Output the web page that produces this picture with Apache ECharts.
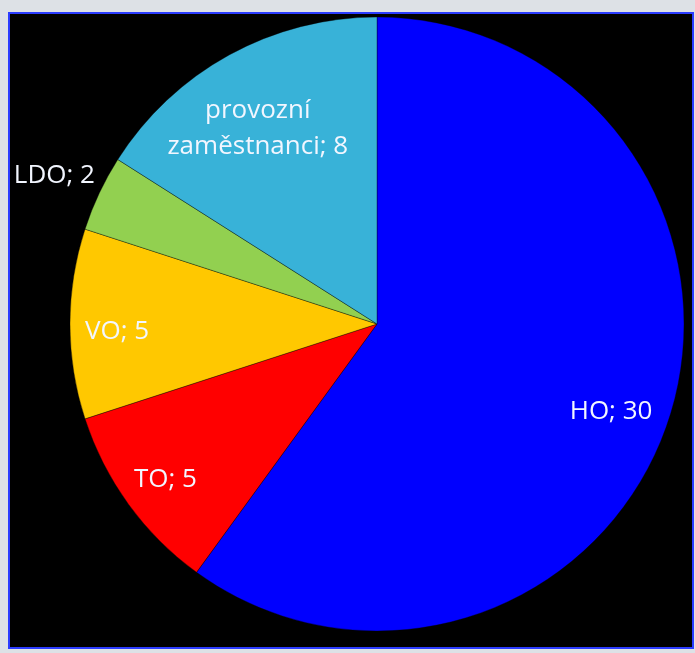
<!DOCTYPE html>
<html>
<head>
<meta charset="utf-8">
<script src="https://cdn.jsdelivr.net/npm/echarts@6/dist/echarts.min.js"></script>
<style>
  html, body { margin: 0; padding: 0; width: 695px; height: 653px; overflow: hidden; background: #dde1e6; }
  #frame { position: absolute; left: 8px; top: 12px; width: 682px; height: 633px; border: 2px solid #2b3cff; background: #000; }
  #chart { position: absolute; left: 0; top: 0; width: 695px; height: 653px; }
</style>
</head>
<body>
<div id="frame"></div>
<div id="chart"></div>
<script>
const categories = ['HO', 'TO', 'VO', 'LDO', 'provozní zaměstnanci'];
const values = [30, 5, 5, 2, 8];
const colors = ['#0000ff', '#ff0000', '#ffc800', '#92d050', '#38b2d8'];

const chart = echarts.init(document.getElementById('chart'), null, { renderer: 'canvas' });

const textStyle = {
  color: '#f2f6ff',
  fontFamily: 'Open Sans',
  fontSize: 26,
  lineHeight: 36
};
const fmt = p => p.name.replace(' ', '\n') + '; ' + p.value;
const labelOffsets = {
  'HO': [-17, 6],
  'TO': [2, 0],
  'VO': [4, 8],
  'provozní zaměstnanci': [8, 36]
};

const pieData = categories.map((name, i) => ({
  name,
  value: values[i],
  itemStyle: { color: colors[i] },
  label: name === 'LDO'
    ? Object.assign({ show: true, position: 'outside', formatter: fmt, offset: [8, -14] }, textStyle)
    : { show: false },
  labelLine: { show: false, length: 8, length2: 0 }
}));

const labelData = categories.map((name, i) => ({
  name,
  value: values[i],
  label: name === 'LDO'
    ? { show: false }
    : Object.assign({ show: true, position: 'inside', formatter: fmt,
        offset: labelOffsets[name] || [0, 0] }, textStyle)
}));

chart.setOption({
  backgroundColor: 'transparent',
  animation: false,
  series: [
    {
      type: 'pie',
      center: [377, 324],
      radius: [0, 307],
      startAngle: 90,
      clockwise: true,
      avoidLabelOverlap: false,
      silent: true,
      itemStyle: { borderColor: 'rgba(0,0,0,0.35)', borderWidth: 1 },
      data: pieData
    },
    {
      type: 'pie',
      center: [377, 324],
      radius: [215, 307],
      startAngle: 90,
      clockwise: true,
      avoidLabelOverlap: false,
      silent: true,
      itemStyle: { color: 'rgba(0,0,0,0)' },
      labelLine: { show: false },
      data: labelData
    }
  ]
});
</script>
</body>
</html>
